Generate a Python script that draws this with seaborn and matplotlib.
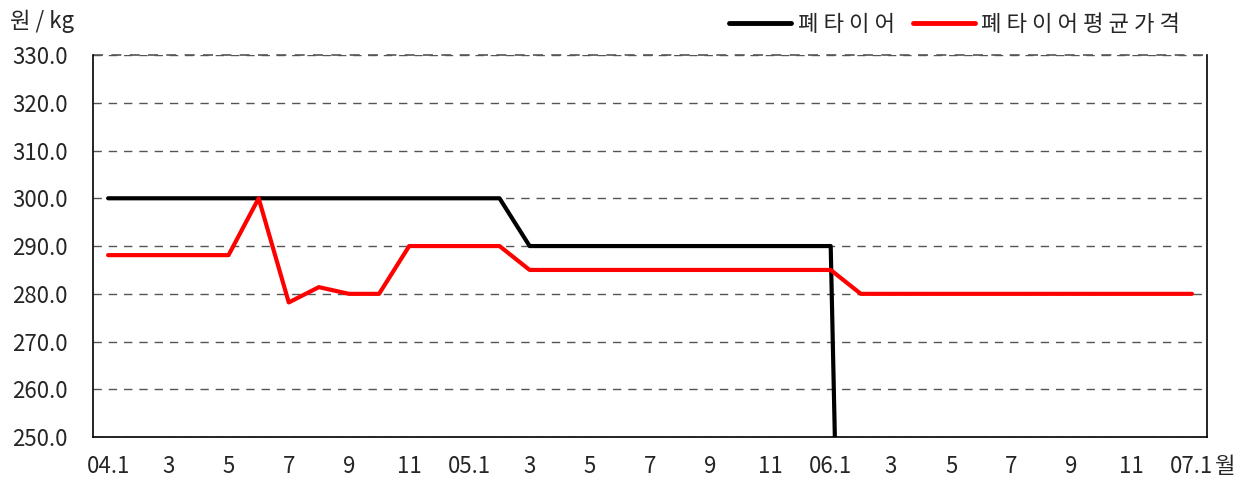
import numpy as np
import pandas as pd
import matplotlib
matplotlib.use("Agg")
import matplotlib.pyplot as plt
import matplotlib.transforms as mtransforms
import seaborn as sns
from matplotlib.ticker import FixedLocator

# months 04.1 ... 07.1
months = [f"{y:02d}.{m}" for y in (4, 5, 6) for m in range(1, 13)] + ["07.1"]
tick_labels = ["04.1", "3", "5", "7", "9", "11",
               "05.1", "3", "5", "7", "9", "11",
               "06.1", "3", "5", "7", "9", "11", "07.1"]

scrap_tire = [300] * 14 + [290] * 11 + [0] + [np.nan] * 11
scrap_tire_avg = ([288.1] * 5 + [300, 278.2, 281.4, 280, 280]
                  + [290] * 4 + [285] * 11 + [280] * 12)

series_names = ["폐타이어", "폐타이어평균가격"]
colors = ["#000000", "#ff0000"]

df = pd.DataFrame({
    "idx": list(range(len(months))) * 2,
    "value": scrap_tire + scrap_tire_avg,
    "series": [series_names[0]] * len(months) + [series_names[1]] * len(months),
})

sns.set_style("white")
plt.rcParams["font.family"] = ["Noto Sans CJK KR", "DejaVu Sans"]
fs = 16

fig, ax = plt.subplots(figsize=(12.44, 4.82), dpi=100)
fig.subplots_adjust(left=0.0748, right=0.9703, top=0.886, bottom=0.093)

sns.lineplot(data=df, x="idx", y="value", hue="series", palette=colors,
             linewidth=3, ax=ax, legend=False)

ax.set_xlim(-0.5, len(months) - 0.5)
ax.set_ylim(250, 330)
ax.set_yticks(np.arange(250, 331, 10))
ax.set_yticklabels([f"{v:.1f}" for v in np.arange(250, 331, 10)], fontsize=fs)
ax.set_xticks(np.arange(0, len(months), 2))
ax.set_xticklabels(tick_labels, fontsize=fs)
ax.xaxis.set_minor_locator(FixedLocator(np.arange(0.5, len(months) - 0.5, 1)))
ax.tick_params(axis="x", which="major", length=0, pad=13)
ax.tick_params(axis="x", which="minor", direction="in", length=6, width=1, color="black")
ax.tick_params(axis="y", length=0, pad=18)
ax.set_xlabel("")
ax.set_ylabel("")

ax.grid(axis="y", linestyle=(0, (6, 5)), color="#555555", linewidth=1)
ax.grid(axis="x", visible=False)
ax.set_axisbelow(True)
for side in ("left", "right", "bottom"):
    ax.spines[side].set_color("black")
    ax.spines[side].set_linewidth(1.2)
ax.spines["top"].set_visible(False)
ax.axhline(330, linestyle=(0, (6, 5)), color="#555555", linewidth=1.2, clip_on=False)

fig.text(0.008, 0.955, "원 / kg", fontsize=fs, va="center", ha="left")
month_tr = mtransforms.offset_copy(ax.get_xaxis_transform(), fig=fig, y=-13, units="points")
ax.text(len(months) - 0.5 + 0.25, 0, "월", transform=month_tr,
        fontsize=fs, ha="left", va="top")

# legend text in the reference is letter-spaced
handles = [plt.Line2D([], [], color=c, linewidth=3.5) for c in colors]
fig.legend(handles, [" ".join(n) for n in series_names], loc="upper right",
           bbox_to_anchor=(0.965, 1.015), ncol=2, frameon=False, fontsize=fs,
           handlelength=2.8, handletextpad=0.3, columnspacing=0.8)

plt.savefig("out.png", dpi=100)
